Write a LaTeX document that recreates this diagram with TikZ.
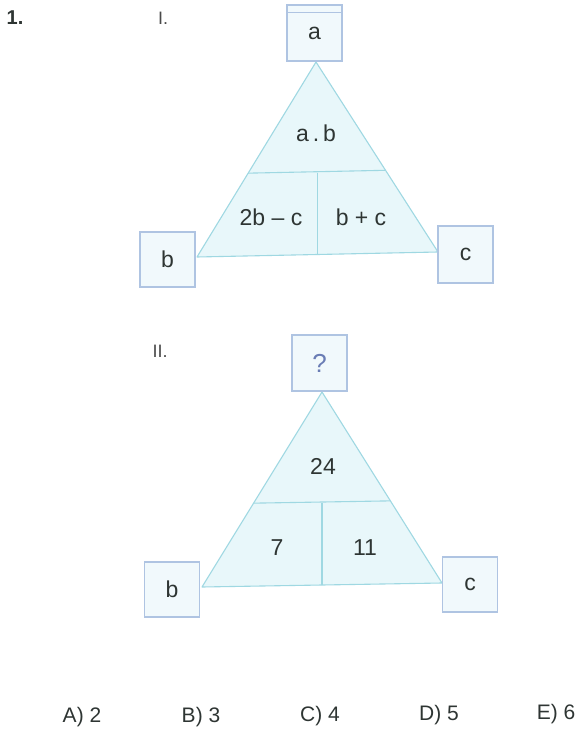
\documentclass[tikz,border=0pt]{standalone}
\usepackage{fontspec}
\setmainfont{Liberation Sans}
\usetikzlibrary{calc}
\definecolor{boxline}{HTML}{AFC4E2}
\definecolor{boxfill}{HTML}{F1F9FC}
\definecolor{triline}{HTML}{9FD8E2}
\definecolor{trifill}{HTML}{E8F7FA}
\definecolor{ink}{HTML}{2E3533}
\definecolor{qink}{HTML}{6A7DB5}
\definecolor{lbl}{HTML}{4A4A4A}
\tikzset{
  vbox/.style={draw=boxline, fill=boxfill, line width=1.1pt, minimum width=55pt, minimum height=56pt, inner sep=0pt, font=\fontsize{23}{25}\selectfont, text=ink},
  tri/.style={draw=triline, fill=trifill, line width=1.1pt, line join=round},
  divline/.style={draw=triline, line width=1.1pt},
  cell/.style={font=\fontsize{23}{25}\selectfont, text=ink, inner sep=0pt},
  roman/.style={font=\fontsize{18}{20}\selectfont, text=lbl, inner sep=0pt},
  answer/.style={font=\fontsize{21}{23}\selectfont, text=ink, inner sep=0pt}
}
\begin{document}
\begin{tikzpicture}[x=1pt, y=-1pt]
\useasboundingbox (0,0) rectangle (577,735);
% labels
\node[font=\bfseries\fontsize{20}{22}\selectfont, text=ink, inner sep=0pt] (num) at (15,18) {1.};
\node[roman] (r1) at (163,18) {I.};
\node[roman] (r2) at (160,351) {II.};

% ---- diagram I ----
\coordinate (A1) at (316,62);
\coordinate (L1) at (197,257);
\coordinate (R1) at (438,252);
\path[tri] (A1) -- (L1) -- (R1) -- cycle;
\coordinate (dl1) at ($(A1)!0.57!(L1)$);
\coordinate (dr1) at ($(A1)!0.57!(R1)$);
\coordinate (m1) at ($(L1)!0.5!(R1)$);
\draw[divline] (dl1) -- (dr1);
\draw[divline] (m1) -- (m1 |- dl1);
\node[vbox] (a) at (314.5,33) {a};
\draw[boxline, line width=0.7pt] ($(a.north west)+(0,8)$) -- ($(a.north east)+(0,8)$);
\node[vbox, minimum height=55pt] (b) at (167.5,259.5) {b};
\node[vbox, minimum height=57pt] (c) at (465.5,254.5) {c};
\node[cell] (ab) at (316,133) {a\,.\,b};
\node[cell] (tbc) at (271,217) {2b – c};
\node[cell] (bpc) at (361,217) {b + c};

% ---- diagram II ----
\coordinate (A2) at (322,392);
\coordinate (L2) at (202,587);
\coordinate (R2) at (442,583);
\path[tri] (A2) -- (L2) -- (R2) -- cycle;
\coordinate (dl2) at ($(A2)!0.57!(L2)$);
\coordinate (dr2) at ($(A2)!0.57!(R2)$);
\coordinate (m2) at ($(L2)!0.5!(R2)$);
\draw[divline] (dl2) -- (dr2);
\draw[divline] (m2) -- (m2 |- dl2);
\node[vbox, text=qink, font=\fontsize{26}{28}\selectfont] (q) at (319.5,363) {?};
\node[vbox, minimum height=55pt] (b2) at (172,589.5) {b};
\node[vbox, minimum height=55pt] (c2) at (470,584.5) {c};
\node[cell] (n24) at (323,466) {24};
\node[cell] (n7) at (277,548) {7};
\node[cell] (n11) at (365,548) {11};

% ---- answers ----
\node[answer] (ansA) at (82,717) {A) 2};
\node[answer] (ansB) at (201,717) {B) 3};
\node[answer] (ansC) at (320,716) {C) 4};
\node[answer] (ansD) at (439,715) {D) 5};
\node[answer] (ansE) at (556,714) {E) 6};
\end{tikzpicture}
\end{document}
